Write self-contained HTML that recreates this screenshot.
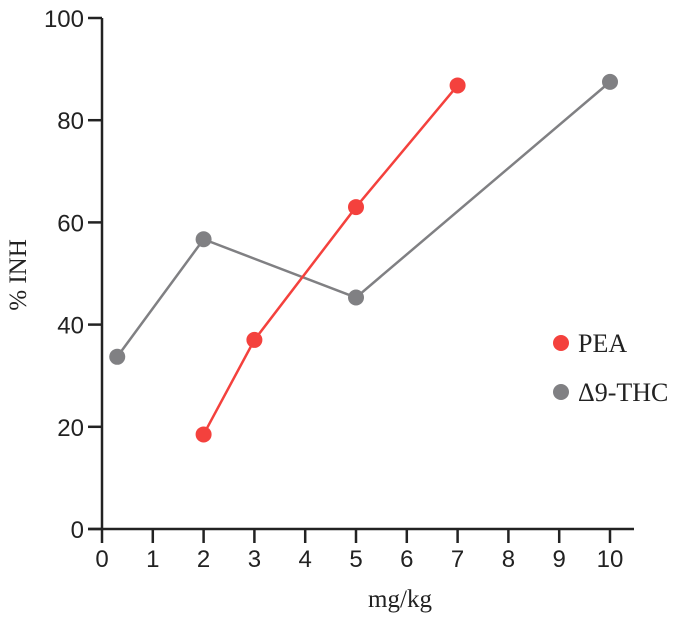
<!DOCTYPE html>
<html><head><meta charset="utf-8"><style>
body{margin:0;background:#fff}
svg{display:block}
.tk{font-family:"Liberation Sans",Arial,sans-serif;font-size:24px;fill:#222}
.sf{font-family:"Liberation Serif",serif;fill:#222}
</style></head><body>
<svg id="c" width="678" height="620"></svg>
<script>
const xTicks=[0,1,2,3,4,5,6,7,8,9,10];
const yTicks=[0,20,40,60,80,100];
const peaX=[2,3,5,7];
const peaY=[18.5,37,63,86.8];
const thcX=[0.3,2,5,10];
const thcY=[33.7,56.7,45.3,87.5];
const ns="http://www.w3.org/2000/svg";
const svg=document.getElementById('c');
const X=v=>102+v*50.8;
const Y=v=>529-v*5.11;
function mk(t,a,p){const e=document.createElementNS(ns,t);for(const k in a)e.setAttribute(k,a[k]);(p||svg).appendChild(e);return e;}
let ax=mk('line',{x1:102,y1:18,x2:102,y2:529,stroke:'#222','stroke-width':2.5});


ax=mk('line',{x1:88,y1:529,x2:634,y2:529,stroke:'#222','stroke-width':2.5});


xTicks.forEach(v=>{
 const l=mk('line',{x1:X(v),y1:529,x2:X(v),y2:543,stroke:'#222','stroke-width':2.5});
 
 
 const t=mk('text',{x:X(v),y:567,'text-anchor':'middle',class:'tk'});t.textContent=v;
 
 
});
yTicks.forEach(v=>{
 const l=mk('line',{x1:88,y1:Y(v),x2:102,y2:Y(v),stroke:'#222','stroke-width':2.5});
 
 
 const t=mk('text',{x:84,y:Y(v)+9,'text-anchor':'end',class:'tk'});t.textContent=v;
 
 
});
function series(xs,ys,col,name){
 const p=mk('polyline',{points:xs.map((x,i)=>X(x)+','+Y(ys[i])).join(' '),fill:'none',stroke:col,'stroke-width':2.5});
 
 
 xs.forEach((x,i)=>{
  const c=mk('circle',{cx:X(x),cy:Y(ys[i]),r:8,fill:col});
  
  
 });
}
series(thcX,thcY,'#808083','thc');
series(peaX,peaY,'#f4413d','pea');
let t=mk('text',{x:400,y:607,'text-anchor':'middle',class:'sf','font-size':25});t.textContent='mg/kg';


t=mk('text',{x:0,y:0,'text-anchor':'middle',class:'sf','font-size':25,transform:'translate(26,275) rotate(-90)'});t.textContent='% INH';


let c=mk('circle',{cx:561,cy:343,r:8,fill:'#f4413d'});


t=mk('text',{x:578,y:352,class:'sf','font-size':26});t.textContent='PEA';


c=mk('circle',{cx:561,cy:392,r:8,fill:'#808083'});


t=mk('text',{x:578,y:401,class:'sf','font-size':26});t.textContent='Δ9-THC';


</script>
</body></html>
